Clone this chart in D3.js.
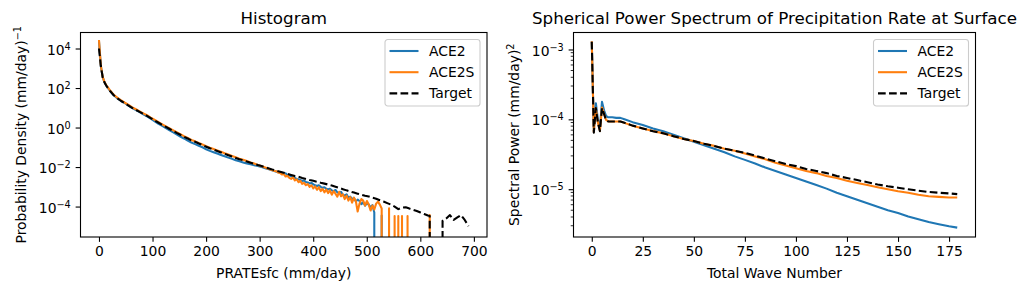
<!DOCTYPE html>
<html>
<head>
<meta charset="utf-8">
<title>Histogram and spherical power spectrum</title>
<script src="https://cdn.jsdelivr.net/npm/d3@7"></script>
<style>
  body { margin: 0; background: #fff; }
  text { font-family: "DejaVu Sans", sans-serif; fill: #000; }
</style>
</head>
<body>
<script>

// ---------- data: histogram of PRATEsfc, [mm/day, density]; 0 = empty bin ----------
var ace2Hist = [
  [0,2.4e4],[3.45,1.3e3],[6.9,3.6e2],[10.35,1.95e2],[13.8,1.3e2],[20.7,72],[27.6,43],[34.5,30],
  [41.4,22],[48.3,17],[55.2,13],[62.1,9.6],[69,7.6],[75.9,6.0],[82.8,4.7],[89.7,3.7],[96.6,2.8],
  [103.5,2.1],[110.4,1.6],[117.3,1.25],[124.2,0.97],[131.1,0.75],[138,0.58],[144.9,0.45],
  [151.8,0.35],[158.7,0.28],[165.6,0.22],[172.5,0.175],[179.4,0.145],[186.3,0.12],[193.2,0.10],
  [200.1,0.080],[207,0.066],[213.9,0.056],[220.8,0.048],[227.7,0.041],[234.6,0.035],[241.5,0.030],
  [248.4,0.026],[255.3,0.022],[262.2,0.0195],[269.1,0.0172],[276,0.0150],[282.9,0.0138],
  [289.8,0.0125],[296.7,0.0112],[303.6,0.0100],[310.5,0.0088],[317.4,0.0077],[324.3,0.0066],
  [331.2,0.0058],[338.1,0.0051],[341.55,5.25e-3],[345,4.68e-3],[348.45,4.90e-3],[351.9,3.98e-3],
  [355.35,3.80e-3],[358.8,3.39e-3],[362.25,3.55e-3],[365.7,2.82e-3],[369.15,2.51e-3],[372.6,2.40e-3],
  [376.05,2.19e-3],[379.5,2.00e-3],[382.95,2.09e-3],[386.4,1.74e-3],[389.85,1.66e-3],[393.3,1.48e-3],
  [396.75,1.58e-3],[400.2,1.32e-3],[403.65,1.20e-3],[407.1,1.10e-3],[410.55,1.20e-3],[414,1.00e-3],
  [417.45,8.91e-4],[420.9,9.55e-4],[424.35,7.94e-4],[427.8,7.24e-4],[431.25,7.94e-4],[434.7,6.61e-4],
  [438.15,6.03e-4],[441.6,6.92e-4],[445.05,5.25e-4],[448.5,4.79e-4],[451.95,5.62e-4],[455.4,3.98e-4],
  [458.85,3.55e-4],[462.3,4.17e-4],[465.75,2.82e-4],[469.2,3.16e-4],[472.65,2.40e-4],[476.1,2.75e-4],
  [479.55,1.78e-4],[483,2.24e-4],[486.45,1.91e-4],[489.9,1.32e-4],[493.35,1.66e-4],[496.8,1.12e-4],
  [500.25,1.51e-4],[503.7,1.26e-4],[507.15,8.91e-5],[510.6,1.20e-4],[514.05,5.01e-5],[517.5,0],
  [524.4,0],[527.85,3.55e-5],[531.3,0]
];

var ace2sHist = [
  [0,2.7e4],[3.45,1.4e3],[6.9,3.7e2],[10.35,2.0e2],[13.8,1.35e2],[20.7,76],[27.6,46],[34.5,32],
  [41.4,23.5],[48.3,18],[55.2,14],[62.1,10.5],[69,8.4],[75.9,6.6],[82.8,5.2],[89.7,4.2],[96.6,3.2],
  [103.5,2.5],[110.4,1.93],[117.3,1.5],[124.2,1.18],[131.1,0.93],[138,0.74],[144.9,0.58],
  [151.8,0.46],[158.7,0.365],[165.6,0.30],[172.5,0.235],[179.4,0.20],[186.3,0.165],[193.2,0.139],
  [200.1,0.114],[207,0.095],[213.9,0.081],[220.8,0.069],[227.7,0.059],[234.6,0.050],[241.5,0.043],
  [248.4,0.036],[255.3,0.031],[262.2,0.0265],[269.1,0.0232],[276,0.0200],[282.9,0.0172],
  [289.8,0.0150],[296.7,0.0128],[303.6,0.0110],[310.5,0.0094],[317.4,0.0080],[324.3,0.0068],
  [327.75,6.31e-3],[331.2,6.17e-3],[334.65,5.25e-3],[338.1,5.01e-3],[341.55,4.17e-3],[345,4.47e-3],
  [348.45,3.31e-3],[351.9,3.63e-3],[355.35,2.82e-3],[358.8,2.51e-3],[362.25,3.02e-3],[365.7,2.09e-3],
  [369.15,2.40e-3],[372.6,1.74e-3],[376.05,2.00e-3],[379.5,1.41e-3],[382.95,1.58e-3],[386.4,1.20e-3],
  [389.85,1.38e-3],[393.3,1.00e-3],[396.75,1.20e-3],[400.2,8.32e-4],[403.65,1.05e-3],[407.1,7.08e-4],
  [410.55,9.55e-4],[414,6.03e-4],[417.45,7.94e-4],[420.9,5.25e-4],[424.35,7.24e-4],[427.8,4.79e-4],
  [431.25,6.61e-4],[434.7,3.98e-4],[438.15,6.03e-4],[441.6,4.47e-4],[445.05,3.16e-4],[448.5,5.62e-4],
  [451.95,3.31e-4],[455.4,4.17e-4],[458.85,2.40e-4],[462.3,3.55e-4],[465.75,2.00e-4],[469.2,3.02e-4],
  [472.65,1.58e-4],[476.1,2.82e-4],[479.55,1.91e-4],[483,5.62e-5],[486.45,1.41e-4],[489.9,2.40e-4],
  [493.35,2.00e-4],[496.8,1.12e-4],[500.25,1.91e-4],[503.7,1.26e-4],[507.15,6.31e-5],[510.6,1.12e-4],
  [514.05,7.08e-5],[517.5,1.41e-4],[520.95,1.78e-4],[524.4,1.26e-4],[527.85,7.94e-5],[531.3,0],
  [538.2,0],[541.65,8.13e-5],[545.1,0],[548.55,0],[552,3.31e-5],[555.45,0],[558.9,3.31e-5],
  [562.35,0],[565.8,3.31e-5],[569.25,0],[572.7,0],[576.15,3.31e-5],[579.6,0],[614.1,0],
  [617.55,3.72e-5],[621,0]
];

var targetHist = [
  [0,1.0e4],[3.45,1.3e3],[6.9,3.5e2],[10.35,1.9e2],[13.8,1.3e2],[20.7,71],[27.6,43],[34.5,30],
  [41.4,22],[48.3,17],[55.2,13],[62.1,9.8],[69,7.8],[75.9,6.2],[82.8,4.9],[89.7,3.9],[96.6,3.0],
  [103.5,2.3],[110.4,1.8],[117.3,1.4],[124.2,1.1],[131.1,0.87],[138,0.69],[144.9,0.54],
  [151.8,0.43],[158.7,0.34],[165.6,0.28],[172.5,0.22],[179.4,0.19],[186.3,0.155],[193.2,0.13],
  [200.1,0.107],[207,0.089],[213.9,0.076],[220.8,0.065],[227.7,0.055],[234.6,0.047],[241.5,0.040],
  [248.4,0.034],[255.3,0.029],[262.2,0.025],[269.1,0.022],[276,0.019],[282.9,0.0166],
  [289.8,0.0145],[296.7,0.0126],[303.6,0.0112],[310.5,0.0098],[317.4,0.0085],[324.3,0.0074],
  [331.2,0.0065],[338.1,0.0058],[345,0.0051],[351.9,0.0045],[358.8,0.0040],[365.7,0.0035],
  [372.6,0.0032],[379.5,0.0028],[386.4,0.0025],[393.3,0.0022],[400.2,0.0020],[407.1,0.0018],
  [414,0.0016],[420.9,0.00145],[427.8,0.0013],[434.7,0.00115],[441.6,0.0010],[448.5,0.00087],
  [455.4,0.00076],[462.3,0.00066],[469.2,0.00058],[476.1,0.00051],[483,0.00045],[489.9,0.00040],
  [496.8,0.00035],[503.7,0.00032],[510.6,0.00028],[517.5,0.00025],[524.4,0.00021],[531.3,0.00018],
  [538.2,0.00015],[545.1,1.26e-4],[552,1.00e-4],[558.9,7.4e-5],[565.8,8.9e-5],[572.7,9.3e-5],
  [579.6,7.9e-5],[586.5,6.9e-5],[593.4,6.0e-5],[600.3,5.0e-5],[607.2,4.2e-5],[614.1,3.5e-5],
  [617.55,3.3e-5],[621,0],[638.1,0],[641.55,1.9e-5],[648.45,2.5e-5],[655.35,3.7e-5],
  [662.25,2.1e-5],[669.15,2.8e-5],[676.05,3.7e-5],[682.95,2.1e-5],[690,1.02e-5]
];

// ---------- data: spherical power spectrum ----------
var waveNumber = [0,1,2,3,4,5,6,7,8,9,10,12,14,16,20,25,30,35,40,45,50,55,60,65,70,75,80,85,90,95,
  100,105,110,115,120,125,130,135,140,145,150,155,160,165,170,175,179];

var ace2Spec = [1.29e-3,7.08e-5,1.70e-4,1.00e-4,7.59e-5,1.78e-4,1.35e-4,1.12e-4,1.07e-4,1.07e-4,
  1.07e-4,1.05e-4,1.05e-4,1.00e-4,9.12e-5,8.32e-5,7.41e-5,6.76e-5,6.03e-5,5.37e-5,4.79e-5,4.27e-5,
  3.80e-5,3.39e-5,2.95e-5,2.63e-5,2.34e-5,2.04e-5,1.82e-5,1.62e-5,1.45e-5,1.29e-5,1.15e-5,1.02e-5,
  8.91e-6,7.94e-6,7.08e-6,6.31e-6,5.62e-6,5.01e-6,4.57e-6,4.07e-6,3.72e-6,3.39e-6,3.16e-6,2.95e-6,2.82e-6];

var ace2sSpec = [1.31e-3,6.6e-5,1.45e-4,9.0e-5,6.8e-5,1.47e-4,1.21e-4,9.8e-5,9.4e-5,9.3e-5,
  9.3e-5,9.3e-5,9.3e-5,8.9e-5,8.1e-5,7.4e-5,6.8e-5,6.3e-5,5.75e-5,5.25e-5,4.9e-5,4.47e-5,
  4.17e-5,3.8e-5,3.55e-5,3.24e-5,2.95e-5,2.69e-5,2.40e-5,2.19e-5,2.00e-5,1.82e-5,1.70e-5,1.55e-5,
  1.45e-5,1.32e-5,1.23e-5,1.15e-5,1.07e-5,1.00e-5,9.33e-6,8.91e-6,8.32e-6,7.94e-6,7.76e-6,7.59e-6,7.59e-6];

var targetSpec = [1.29e-3,6.46e-5,1.45e-4,8.91e-5,6.76e-5,1.45e-4,1.20e-4,9.77e-5,9.33e-5,9.33e-5,
  9.33e-5,9.33e-5,9.33e-5,8.91e-5,8.13e-5,7.41e-5,6.76e-5,6.31e-5,5.75e-5,5.25e-5,4.90e-5,4.47e-5,
  4.17e-5,3.80e-5,3.55e-5,3.31e-5,3.02e-5,2.75e-5,2.51e-5,2.29e-5,2.14e-5,1.95e-5,1.82e-5,1.70e-5,
  1.55e-5,1.45e-5,1.35e-5,1.26e-5,1.17e-5,1.10e-5,1.05e-5,1.00e-5,9.55e-6,9.12e-6,8.91e-6,8.71e-6,8.51e-6];

// ---------- ticks and labels ----------
var histXTicks = [0,100,200,300,400,500,600,700];
var histYTicks = [1e-4,1e-2,1e0,1e2,1e4];
var specXTicks = [0,25,50,75,100,125,150,175];
var specYTicks = [1e-5,1e-4,1e-3];
var seriesNames = ["ACE2","ACE2S","Target"];
var seriesColors = ["#1f77b4","#ff7f0e","#000000"];

var width = 1028, height = 290;
var fs = 13.9;        // 10pt at 100 dpi
var tick = 4.86;      // 3.5pt
var lw = 2.08;        // 1.5pt
var dash = "7.7,3.33";

var svg = d3.select("body").append("svg")
  .attr("width", width)
  .attr("height", height);

function pow10Label(sel) {
  sel.each(function(d) {
    var e = Math.round(Math.log10(d));
    var t = d3.select(this).text(null).attr("dy", "0.4em");
    t.append("tspan").text("10");
    t.append("tspan").attr("dy", "-5px").attr("font-size", "9.7px")
      .text(e < 0 ? "\u2212" + (-e) : String(e));
  });
}

function panel(o) {
  var x = d3.scaleLinear().domain(o.xDomain).range([o.left, o.right]);
  var y = d3.scaleLog().domain(o.yDomain).range([o.bottom, o.top]);
  var g = svg.append("g");

  var clipId = "clip" + o.id;
  svg.append("clipPath").attr("id", clipId)
    .append("rect")
    .attr("x", o.left).attr("y", o.top)
    .attr("width", o.right - o.left).attr("height", o.bottom - o.top);

  // minor ticks on the log axis
  if (o.minor) {
    var minors = [];
    for (var k = -7; k <= -2; k++)
      for (var m = 2; m <= 9; m++) {
        var v = m * Math.pow(10, k);
        if (v > o.yDomain[0] && v < o.yDomain[1]) minors.push(v);
      }
    g.append("g").selectAll("line").data(minors).join("line")
      .attr("x1", o.left - 2.78).attr("x2", o.left)
      .attr("y1", d => y(d)).attr("y2", d => y(d))
      .attr("stroke", "#000").attr("stroke-width", 0.83);
  }

  var xa = g.append("g").attr("transform", "translate(0," + o.bottom + ")")
    .call(d3.axisBottom(x).tickValues(o.xTicks).tickSize(tick).tickPadding(4.5).tickSizeOuter(0));
  var ya = g.append("g").attr("transform", "translate(" + o.left + ",0)")
    .call(d3.axisLeft(y).tickValues(o.yTicks).tickSize(tick).tickPadding(tick).tickSizeOuter(0));
  [xa, ya].forEach(function(a) {
    a.select(".domain").remove();
    a.selectAll(".tick line").attr("stroke-width", 1.1);
    a.selectAll("text").attr("font-size", fs + "px").attr("font-family", "DejaVu Sans");
  });
  ya.selectAll(".tick text").call(pow10Label);

  // series
  var floor = 1e-300;   // empty bins drop out below the axes, as with log clipping
  var lines = g.append("g").attr("clip-path", "url(#" + clipId + ")");
  o.series.forEach(function(s, i) {
    var line = d3.line()
      .x(d => x(d[0]))
      .y(d => y(d[1] > 0 ? d[1] : floor));
    lines.append("path")
      .datum(s)
      .attr("fill", "none")
      .attr("stroke", seriesColors[i])
      .attr("stroke-width", lw)
      .attr("stroke-linejoin", "round")
      .attr("stroke-dasharray", i === 2 ? dash : null)
      .attr("d", line);
  });

  // frame
  g.append("rect")
    .attr("x", o.left).attr("y", o.top)
    .attr("width", o.right - o.left).attr("height", o.bottom - o.top)
    .attr("fill", "none").attr("stroke", "#000").attr("stroke-width", 1.1);

  // title and axis labels
  var cx = (o.left + o.right) / 2;
  g.append("text").attr("x", cx).attr("y", 24)
    .attr("text-anchor", "middle").attr("font-size", "16.7px").text(o.title);
  g.append("text").attr("x", cx).attr("y", 277.5)
    .attr("text-anchor", "middle").attr("font-size", fs + "px").text(o.xLabel);
  var yl = g.append("text")
    .attr("transform", "translate(" + o.yLabelX + "," + ((o.top + o.bottom) / 2) + ") rotate(-90)")
    .attr("text-anchor", "middle").attr("font-size", fs + "px").attr("dy", "0.35em");
  yl.append("tspan").text(o.yLabel[0]);
  yl.append("tspan").attr("dy", "-5px").attr("font-size", "9.7px").text(o.yLabel[1]);

  // legend
  var lgW = 95, lgH = 66.5;
  var lg = g.append("g").attr("transform", "translate(" + (o.right - 7 - lgW) + "," + (o.top + 7) + ")");
  lg.append("rect").attr("width", lgW).attr("height", lgH).attr("rx", 2.8)
    .attr("fill", "#fff").attr("fill-opacity", 0.8)
    .attr("stroke", "#cccccc").attr("stroke-width", 1.1);
  seriesNames.forEach(function(name, i) {
    var yy = 11.5 + i * 21.2;
    lg.append("line").attr("x1", 4.5).attr("x2", 33.5).attr("y1", yy).attr("y2", yy)
      .attr("stroke", seriesColors[i]).attr("stroke-width", lw)
      .attr("stroke-dasharray", i === 2 ? dash : null);
    lg.append("text").attr("x", 44).attr("y", yy).attr("dy", "0.36em")
      .attr("font-size", fs + "px").text(name);
  });
}

panel({
  id: "hist", left: 80.5, right: 487, top: 32.5, bottom: 237,
  xDomain: [-34.5, 724.5], yDomain: [2.88e-6, 6.46e4],
  xTicks: histXTicks, yTicks: histYTicks, minor: false,
  series: [ace2Hist, ace2sHist, targetHist],
  title: "Histogram", xLabel: "PRATEsfc (mm/day)",
  yLabel: ["Probability Density (mm/day)", "\u22121"], yLabelX: 21
});

panel({
  id: "spec", left: 573.5, right: 975.5, top: 32.5, bottom: 237,
  xDomain: [-8.95, 187.95], yDomain: [2.07e-6, 1.75e-3],
  xTicks: specXTicks, yTicks: specYTicks, minor: true,
  series: [waveNumber.map((w, i) => [w, ace2Spec[i]]),
           waveNumber.map((w, i) => [w, ace2sSpec[i]]),
           waveNumber.map((w, i) => [w, targetSpec[i]])],
  title: "Spherical Power Spectrum of Precipitation Rate at Surface", xLabel: "Total Wave Number",
  yLabel: ["Spectral Power (mm/day)", "2"], yLabelX: 514
});

</script>
</body>
</html>
